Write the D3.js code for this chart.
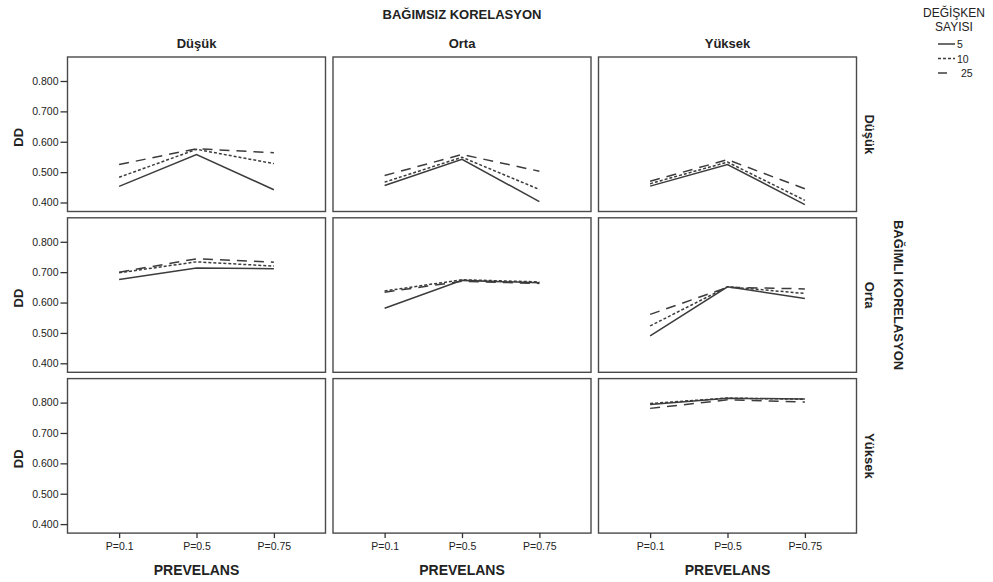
<!DOCTYPE html>
<html>
<head>
<meta charset="utf-8">
<script src="https://cdn.jsdelivr.net/npm/d3@7"></script>
<style>
  body { margin: 0; background: #fff; }
  svg { font-family: "Liberation Sans", Arial, sans-serif; }
</style>
</head>
<body>
<div class="chart"></div>
<script>
// categories
var prevalence = ["P=0.1", "P=0.5", "P=0.75"];
var colLevels = ["Düşük", "Orta", "Yüksek"];   // BAĞIMSIZ KORELASYON
var rowLevels = ["Düşük", "Orta", "Yüksek"];   // BAĞIMLI KORELASYON
var varCounts = ["5", "10", "25"];
var yTicks = [0.4, 0.5, 0.6, 0.7, 0.8];

// DD values, [row][col] -> values at P=0.1, 0.5, 0.75 (null = empty cell)
var dd5 = [
    [[0.453, 0.558, 0.442], [0.456, 0.542, 0.403], [0.454, 0.525, 0.393]],
    [[0.676, 0.714, 0.711], [0.581, 0.673, 0.665], [0.490, 0.652, 0.613]],
    [null, null, [0.794, 0.814, 0.812]]
];
var dd10 = [
    [[0.483, 0.575, 0.528], [0.467, 0.549, 0.443], [0.462, 0.533, 0.407]],
    [[0.698, 0.734, 0.720], [0.638, 0.675, 0.668], [0.523, 0.652, 0.630]],
    [null, null, [0.797, 0.815, 0.811]]
];
var dd25 = [
    [[0.525, 0.577, 0.564], [0.489, 0.558, 0.503], [0.470, 0.541, 0.445]],
    [[0.700, 0.744, 0.733], [0.634, 0.670, 0.663], [0.561, 0.650, 0.645]],
    [null, null, [0.781, 0.809, 0.802]]
];

var seriesData = [dd5, dd10, dd25];
var dashes = [null, "3,2", "10,7"];

var width = 993, height = 582;
var marginLeft = 67.5, marginTop = 57,
    pw = 258, ph = 154.5,
    gapX = 7.5, gapY = 6.3;

var svg = d3.select(".chart").append("svg")
    .attr("width", width)
    .attr("height", height);

// scales inside a panel
var x = d3.scalePoint()
    .domain(prevalence)
    .range([0, pw])
    .padding(0.667);

var y = d3.scaleLinear()
    .domain([0.4, 0.8])
    .range([145.5, 24]);

var line = d3.line()
    .x(function (d, i) { return x(prevalence[i]); })
    .y(function (d) { return y(d); });

// title
svg.append("text")
    .attr("x", marginLeft + (3 * pw + 2 * gapX) / 2)
    .attr("y", 19)
    .attr("text-anchor", "middle")
    .style("font-size", "13px")
    .style("font-weight", "bold")
    .attr("fill", "#222")
    .text("BAĞIMSIZ KORELASYON");

rowLevels.forEach(function (rowName, r) {
    colLevels.forEach(function (colName, c) {
        var px = marginLeft + c * (pw + gapX),
            py = marginTop + r * (ph + gapY);
        var g = svg.append("g")
            .attr("transform", "translate(" + px + "," + py + ")");

        g.append("rect")
            .attr("width", pw)
            .attr("height", ph)
            .attr("fill", "#fff")
            .attr("stroke", "#4a4a4a")
            .attr("stroke-width", 1.4);

        seriesData.forEach(function (s, k) {
            var vals = s[r][c];
            if (!vals) return;
            g.append("path")
                .datum(vals)
                .attr("d", line)
                .attr("fill", "none")
                .attr("stroke", "#3c3c3c")
                .attr("stroke-width", 1.5)
                .attr("stroke-dasharray", dashes[k]);
        });

        if (r == 0) {
            g.append("text")
                .attr("x", pw / 2)
                .attr("y", -9)
                .attr("text-anchor", "middle")
                .style("font-size", "13px")
                .style("font-weight", "bold")
                .attr("fill", "#222")
                .text(colName);
        }

        if (c == 0) {
            var ya = g.append("g")
                .call(d3.axisLeft(y).tickValues(yTicks).tickSize(7).tickPadding(2).tickFormat(d3.format(".3f")));
            ya.select(".domain").remove();
            ya.selectAll("line").attr("stroke", "#333").attr("stroke-width", 1.3);
            ya.selectAll("text").style("font-size", "10.5px").style("font-family", "Liberation Sans, Arial, sans-serif").attr("fill", "#222");

            g.append("text")
                .attr("transform", "translate(-45," + (ph / 2 + 3) + ") rotate(-90)")
                .attr("text-anchor", "middle")
                .style("font-size", "13px")
                .style("font-weight", "bold")
                .attr("fill", "#222")
                .text("DD");
        }

        if (c == 2) {
            g.append("text")
                .attr("transform", "translate(" + (pw + 8) + "," + (ph / 2) + ") rotate(90)")
                .attr("text-anchor", "middle")
                .style("font-size", "13px")
                .style("font-weight", "bold")
                .attr("fill", "#222")
                .text(rowName);
        }

        if (r == 2) {
            var xa = g.append("g")
                .attr("transform", "translate(0," + ph + ")")
                .call(d3.axisBottom(x).tickSize(5).tickPadding(4));
            xa.select(".domain").remove();
            xa.selectAll("line").attr("stroke", "#333").attr("stroke-width", 1.3);
            xa.selectAll("text").style("font-size", "10.5px").style("font-family", "Liberation Sans, Arial, sans-serif").attr("fill", "#222");

            g.append("text")
                .attr("x", pw / 2)
                .attr("y", ph + 42)
                .attr("text-anchor", "middle")
                .style("font-size", "14px")
                .style("font-weight", "bold")
                .attr("fill", "#222")
                .text("PREVELANS");
        }
    });
});

// right-side group title
var midRow = marginTop + (ph + gapY) + ph / 2;
svg.append("text")
    .attr("transform", "translate(" + 894 + "," + midRow + ") rotate(90)")
    .attr("text-anchor", "middle")
    .style("font-size", "13px")
    .style("font-weight", "bold")
    .attr("fill", "#222")
    .text("BAĞIMLI KORELASYON");

// legend
var legend = svg.append("g").attr("transform", "translate(954,0)");
legend.append("text")
    .attr("y", 17)
    .attr("text-anchor", "middle")
    .style("font-size", "12px")
    .attr("fill", "#222")
    .text("DEĞİŞKEN");
legend.append("text")
    .attr("y", 31)
    .attr("text-anchor", "middle")
    .style("font-size", "12px")
    .attr("fill", "#222")
    .text("SAYISI");

var legendLen = [17, 17, 9];
varCounts.forEach(function (v, k) {
    var ly = 44 + k * 14.5;
    legend.append("line")
        .attr("x1", -16)
        .attr("x2", -16 + legendLen[k])
        .attr("y1", ly)
        .attr("y2", ly)
        .attr("stroke", "#3c3c3c")
        .attr("stroke-width", 1.5)
        .attr("stroke-dasharray", dashes[k]);
    legend.append("text")
        .attr("x", k == 2 ? 7 : 3)
        .attr("y", ly + 4)
        .style("font-size", "10.5px")
        .attr("fill", "#222")
        .text(v);
});
</script>
</body>
</html>
